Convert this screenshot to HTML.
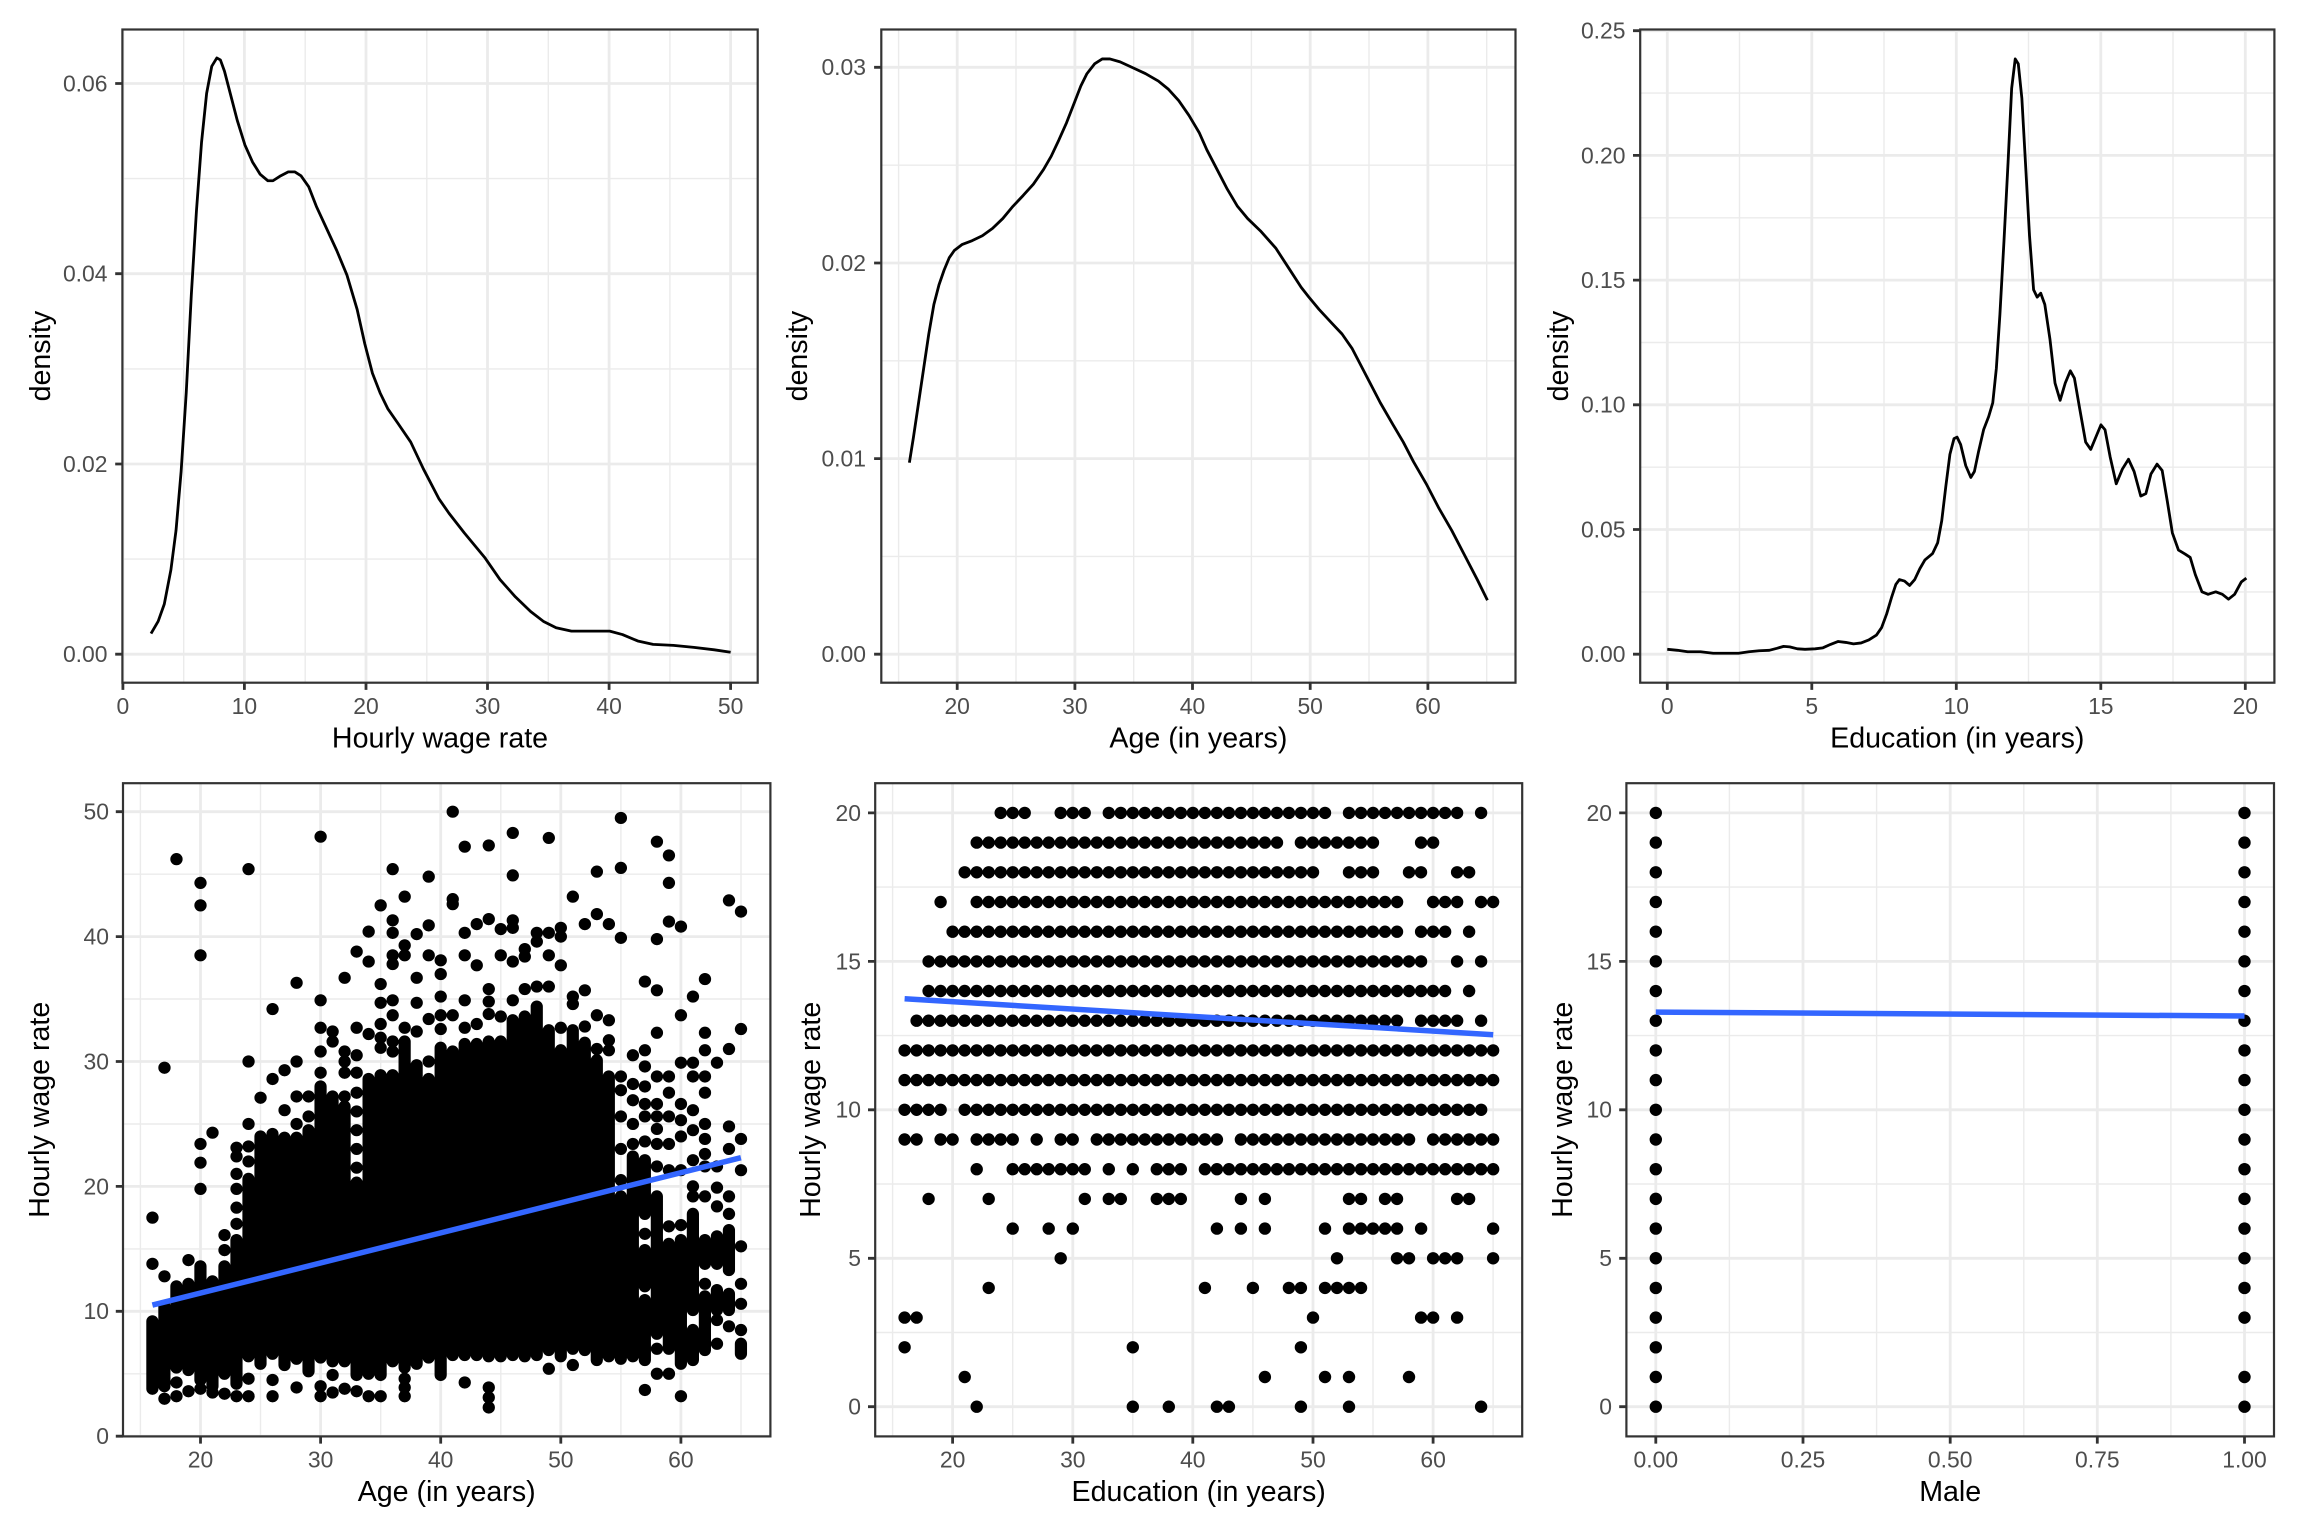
<!DOCTYPE html>
<html><head><meta charset="utf-8"><style>
html,body{margin:0;padding:0;background:#fff}
svg{display:block}
text{font-family:"Liberation Sans",Arial,sans-serif}
.tk{font-size:22.9px;fill:#4D4D4D}
.tt{font-size:28.6px;fill:#000}
</style></head><body>
<svg width="2304" height="1536" viewBox="0 0 2304 1536" xmlns="http://www.w3.org/2000/svg">
<rect width="2304" height="1536" fill="#fff"/>

<!-- ================= GRIDLINES ================= -->
<g stroke="#EBEBEB" fill="none">
<path stroke-width="1.4" d="M183.7 29.5V682.7M305.2 29.5V682.7M426.8 29.5V682.7M548.3 29.5V682.7M669.9 29.5V682.7M122.4 559.1H757.7M122.4 368.9H757.7M122.4 178.6H757.7
M898.6 29.5V682.7M1016 29.5V682.7M1133.7 29.5V682.7M1251.4 29.5V682.7M1369 29.5V682.7M1486.7 29.5V682.7M881.3 556.4H1515.5M881.3 360.8H1515.5M881.3 165.2H1515.5
M1739.5 29.5V682.7M1884 29.5V682.7M2028.5 29.5V682.7M2173 29.5V682.7M1640.2 591.9H2274.4M1640.2 467.2H2274.4M1640.2 342.5H2274.4M1640.2 217.8H2274.4M1640.2 93.1H2274.4
M140.4 783.2V1436.4M260.5 783.2V1436.4M380.7 783.2V1436.4M500.8 783.2V1436.4M620.9 783.2V1436.4M741 783.2V1436.4M123 1373.8H770.4M123 1248.9H770.4M123 1124H770.4M123 999H770.4M123 874.2H770.4
M892.6 783.2V1436.4M1012.7 783.2V1436.4M1132.8 783.2V1436.4M1252.9 783.2V1436.4M1373 783.2V1436.4M1493.1 783.2V1436.4M875.2 1332.5H1522.2M875.2 1184H1522.2M875.2 1035.6H1522.2M875.2 887.1H1522.2
M1729.4 783.2V1436.4M1876.6 783.2V1436.4M2023.8 783.2V1436.4M2170.9 783.2V1436.4M1626.4 1332.5H2274M1626.4 1184H2274M1626.4 1035.6H2274M1626.4 887.1H2274"/>
<path stroke-width="2.8" d="M122.9 29.5V682.7M244.4 29.5V682.7M366 29.5V682.7M487.5 29.5V682.7M609.1 29.5V682.7M730.6 29.5V682.7M122.4 654.2H757.7M122.4 464H757.7M122.4 273.7H757.7M122.4 83.5H757.7
M957.2 29.5V682.7M1074.9 29.5V682.7M1192.5 29.5V682.7M1310.2 29.5V682.7M1427.9 29.5V682.7M881.3 654.2H1515.5M881.3 458.6H1515.5M881.3 263H1515.5M881.3 67.3H1515.5
M1667.3 29.5V682.7M1811.8 29.5V682.7M1956.3 29.5V682.7M2100.8 29.5V682.7M2245.3 29.5V682.7M1640.2 654.2H2274.4M1640.2 529.5H2274.4M1640.2 404.8H2274.4M1640.2 280.1H2274.4M1640.2 155.4H2274.4M1640.2 30.7H2274.4
M200.5 783.2V1436.4M320.6 783.2V1436.4M440.7 783.2V1436.4M560.8 783.2V1436.4M680.9 783.2V1436.4M123 1436.2H770.4M123 1311.3H770.4M123 1186.4H770.4M123 1061.5H770.4M123 936.6H770.4M123 811.7H770.4
M952.6 783.2V1436.4M1072.8 783.2V1436.4M1192.8 783.2V1436.4M1313 783.2V1436.4M1433.1 783.2V1436.4M875.2 1406.7H1522.2M875.2 1258.3H1522.2M875.2 1109.8H1522.2M875.2 961.4H1522.2M875.2 812.9H1522.2
M1655.8 783.2V1436.4M1803 783.2V1436.4M1950.2 783.2V1436.4M2097.3 783.2V1436.4M2244.5 783.2V1436.4M1626.4 1406.7H2274M1626.4 1258.3H2274M1626.4 1109.8H2274M1626.4 961.4H2274M1626.4 812.9H2274"/>
</g>

<!-- ================= DENSITY CURVES ================= -->
<g fill="none" stroke="#000" stroke-linejoin="round" stroke-linecap="butt">
<g transform="scale(0.510204,0.491159)">
<polyline vector-effect="non-scaling-stroke" stroke-width="2.8" points="296,1290 310,1265 322,1230 335,1160 345,1080 355,960 365,800 375,600 385,430 395,290 405,190 415,135 425,118 432,122 440,145 450,185 465,245 480,295 495,330 510,355 525,368 535,368 550,358 565,350 578,350 590,358 605,380 620,420 640,465 660,510 680,560 700,630 715,700 730,760 745,800 760,832 780,862 805,900 830,955 860,1015 880,1045 910,1085 950,1135 980,1180 1010,1215 1040,1245 1065,1265 1090,1278 1120,1285 1160,1285 1195,1285 1220,1292 1250,1305 1280,1312 1320,1314 1360,1318 1400,1323 1432,1328"/>
</g>
<g transform="translate(740,0) scale(0.510204,0.491159)">
<polyline vector-effect="non-scaling-stroke" stroke-width="2.8" points="332,942 340,890 350,820 360,750 370,680 380,620 390,580 400,550 410,525 420,510 435,498 455,490 475,480 495,465 515,445 535,420 555,398 575,375 595,345 610,318 625,285 640,250 655,210 668,175 680,150 695,130 710,120 725,120 745,126 770,138 795,150 820,165 840,182 860,205 880,235 900,270 915,305 935,345 955,385 975,420 995,445 1020,470 1050,505 1075,545 1100,585 1115,605 1135,630 1160,658 1180,680 1200,710 1220,750 1240,790 1255,820 1280,865 1300,900 1320,940 1345,985 1370,1035 1395,1080 1420,1130 1445,1180 1465,1222"/>
</g>
<g transform="translate(1504,0) scale(0.510204,0.491159)">
<polyline vector-effect="non-scaling-stroke" stroke-width="2.8" points="320,1322 340,1324 360,1327 385,1327 410,1330 440,1330 460,1330 480,1327 500,1325 520,1324 535,1320 548,1316 560,1317 575,1321 590,1322 610,1321 625,1319 640,1312 655,1306 670,1308 685,1311 700,1309 715,1303 730,1293 740,1278 750,1250 760,1215 768,1190 775,1180 785,1183 795,1192 805,1180 815,1158 825,1140 840,1127 850,1105 858,1060 866,990 874,925 882,893 888,890 895,905 905,948 915,972 922,960 930,920 940,875 950,848 958,820 965,750 972,640 980,490 988,330 995,180 1002,120 1008,130 1015,200 1022,330 1030,480 1038,590 1045,605 1052,597 1060,620 1070,690 1080,780 1090,815 1100,780 1110,755 1118,770 1128,830 1140,900 1150,915 1160,890 1170,865 1178,875 1188,930 1200,985 1212,955 1224,935 1235,960 1248,1010 1258,1005 1268,965 1280,945 1290,958 1300,1020 1310,1085 1322,1120 1335,1128 1345,1135 1355,1170 1368,1205 1380,1210 1395,1205 1408,1210 1420,1220 1432,1210 1445,1185 1455,1177"/>
</g>
</g>

<!-- ================= SCATTER 1 (age vs wage) ================= -->
<g transform="translate(-39.78,1436.2) scale(12.011,-12.49)">
<path vector-effect="non-scaling-stroke" fill="none" stroke="#000" stroke-width="12.2" stroke-linecap="round" d="
M16 3.8V9.2M16 13.8h.01M16 17.5h.01
M17 4V10.4M17 3h.01M17 12.8h.01M17 29.5h.01
M18 5.5V12M18 4.3h.01M18 3.2h.01M18 46.2h.01
M19 5.3V12.2M19 3.6h.01M19 14.1h.01
M20 4.5V13.6M20 3.8h.01M20 19.8h.01M20 21.9h.01M20 23.4h.01M20 38.5h.01M20 42.5h.01M20 44.3h.01
M21 4V12.4M21 3.5h.01M21 24.3h.01
M22 5V13.6M22 3.4h.01M22 14.9h.01M22 16.1h.01
M23 4.2V15.7M23 3.2h.01M23 17h.01M23 18.3h.01M23 19.8h.01M23 21h.01M23 22.4h.01M23 23.1h.01
M24 6.4V20.6M24 4.6h.01M24 3.2h.01M24 22h.01M24 23.2h.01M24 25h.01M24 30h.01M24 45.4h.01
M25 5.8V24M25 27.1h.01
M26 6.6V24.2M26 4.5h.01M26 3.2h.01M26 28.6h.01M26 34.2h.01
M27 5.7V23.9M27 26.1h.01M27 29.3h.01
M28 6.2V23.9M28 3.9h.01M28 25h.01M28 27.2h.01M28 30h.01M28 36.3h.01
M29 5.2V24.5M29 25.6h.01M29 27.2h.01
M30 6.3V28M30 4h.01M30 3.2h.01M30 29.1h.01M30 30.8h.01M30 32.7h.01M30 34.9h.01M30 48h.01
M31 6V27.2M31 4.9h.01M31 3.5h.01M31 31.6h.01M31 32.4h.01
M32 6V26.4M32 3.8h.01M32 27.2h.01M32 29.1h.01M32 30h.01M32 30.8h.01M32 36.7h.01
M33 4.9V20.3M33 3.6h.01M33 21.5h.01M33 23h.01M33 24.5h.01M33 26h.01M33 27.5h.01M33 29.1h.01M33 30.5h.01M33 32.7h.01M33 38.8h.01
M34 5V28.6M34 3.2h.01M34 32.2h.01M34 38h.01M34 40.4h.01
M35 4.9V28.9M35 3.2h.01M35 31.1h.01M35 31.9h.01M35 33h.01M35 34.7h.01M35 36.2h.01M35 42.5h.01
M36 6V28.9M36 30.8h.01M36 31.6h.01M36 33.7h.01M36 34.9h.01M36 37.8h.01M36 38.5h.01M36 40.3h.01M36 41.3h.01M36 45.4h.01
M37 5.5V31.6M37 3.2h.01M37 3.9h.01M37 4.6h.01M37 32.7h.01M37 38.5h.01M37 39.3h.01M37 43.2h.01
M38 5.8V29.7M38 32.4h.01M38 34.7h.01M38 36.7h.01M38 40.2h.01
M39 6.3V28.6M39 30h.01M39 33.4h.01M39 38.5h.01M39 40.9h.01M39 44.8h.01
M40 4.9V31.1M40 32.6h.01M40 33.7h.01M40 35.2h.01M40 37h.01M40 38.1h.01
M41 6.5V30.8M41 33.7h.01M41 42.6h.01M41 43h.01M41 50h.01
M42 6.5V31.4M42 4.3h.01M42 32.7h.01M42 34.9h.01M42 38.5h.01M42 40.3h.01M42 47.2h.01
M43 6.5V31.4M43 33h.01M43 37.7h.01M43 41h.01
M44 6.4V31.6M44 2.3h.01M44 3.1h.01M44 3.9h.01M44 33.8h.01M44 34.8h.01M44 35.8h.01M44 41.4h.01M44 47.3h.01
M45 6.4V31.6M45 33.6h.01M45 38.5h.01M45 40.6h.01
M46 6.5V33.3M46 34.9h.01M46 38h.01M46 40.7h.01M46 41.3h.01M46 44.9h.01M46 48.3h.01
M47 6.4V33.6M47 35.8h.01M47 38.4h.01M47 39h.01
M48 6.5V34.4M48 36h.01M48 39.6h.01M48 40.3h.01
M49 6.9V32.5M49 5.4h.01M49 36h.01M49 38.5h.01M49 40.3h.01M49 47.9h.01
M50 6.4V30.9M50 32.7h.01M50 37.7h.01M50 40h.01M50 40.7h.01
M51 7V32.5M51 5.7h.01M51 34.6h.01M51 35.2h.01M51 43.2h.01
M52 6.9V31.5M52 32.8h.01M52 35.7h.01M52 41h.01
M53 6.1V30.1M53 31h.01M53 33.7h.01M53 41.8h.01M53 45.2h.01
M54 6.4V28.8M54 30.9h.01M54 31.7h.01M54 33.3h.01M54 41h.01
M55 6.2V19.2M55 20.5h.01M55 23h.01M55 25.6h.01M55 27.7h.01M55 28.8h.01M55 39.9h.01M55 45.5h.01M55 49.5h.01
M56 6.4V22.4M56 23.4h.01M56 25h.01M56 26.9h.01M56 28.2h.01M56 30.5h.01
M57 6.1V10.9M57 12V14.9M57 16.2h.01M57 17.8V22.1M57 3.7h.01M57 23.6h.01M57 25.6h.01M57 26.6h.01M57 28h.01M57 29.6h.01M57 30.9h.01M57 36.4h.01
M58 8.2V19.2M58 5h.01M58 7h.01M58 21.6h.01M58 23.4h.01M58 24.6h.01M58 25.6h.01M58 26.6h.01M58 28.8h.01M58 32.3h.01M58 35.7h.01M58 39.8h.01M58 47.6h.01
M59 7V15.4M59 5h.01M59 16.8h.01M59 21.3h.01M59 23.4h.01M59 25.6h.01M59 27.5h.01M59 28.8h.01M59 41.2h.01M59 44.3h.01M59 46.5h.01
M60 5.8V15.7M60 3.2h.01M60 16.9h.01M60 21.3h.01M60 24h.01M60 25.3h.01M60 26.6h.01M60 29.9h.01M60 33.7h.01M60 40.8h.01
M61 10.1V17.8M61 6.1V8.5M61 19.2h.01M61 20h.01M61 22.1h.01M61 24.5h.01M61 26.1h.01M61 28.8h.01M61 29.9h.01M61 35.2h.01
M62 6.9V11.2M62 12.2h.01M62 13.8V15.7M62 19.2h.01M62 21.6h.01M62 22.6h.01M62 23.8h.01M62 25h.01M62 27.5h.01M62 28.8h.01M62 30.9h.01M62 32.3h.01M62 36.6h.01
M63 13.8V16M63 10.1V11.7M63 9.3h.01M63 7.4h.01M63 18.4h.01M63 19.9h.01M63 21.6h.01M63 29.9h.01
M64 13.3V16.5M64 10.1V11.4M64 8.8h.01M64 17.8h.01M64 19.2h.01M64 23h.01M64 24.8h.01M64 31h.01M64 42.9h.01
M65 6.6V7.4M65 8.5h.01M65 10.6h.01M65 12.2h.01M65 15.2h.01M65 21.3h.01M65 23.8h.01M65 32.6h.01M65 42h.01"/>
</g>
<line x1="152.4" y1="1305.1" x2="740.9" y2="1157.7" stroke="#3366FF" stroke-width="5.5"/>

<!-- ================= SCATTER 2 (dot grid) ================= -->
<g fill="none" stroke="#000" stroke-width="12.4" stroke-linecap="round" stroke-dasharray="0 12.011">
<path d="M1000.7 812.9H1025.2M1060.7 812.9H1085.3M1108.8 812.9H1325.5M1349 812.9H1457.6M1481.1 812.9h.5"/>
<path d="M976.7 842.6H1277.4M1300.9 842.6H1373.5M1421.1 842.6H1433.6"/>
<path d="M964.7 872.3H1313.5M1349 872.3H1373.5M1409 872.3H1421.6M1457.1 872.3H1469.6"/>
<path d="M940.6 902h.5M976.7 902H1397.5M1433.1 902H1457.6M1481.1 902H1493.6"/>
<path d="M952.6 931.7H1397.5M1421.1 931.7H1445.6M1469.1 931.7h.5"/>
<path d="M928.6 961.4H1421.6M1457.1 961.4h.5M1481.1 961.4h.5"/>
<path d="M928.6 991H1445.6M1469.1 991h.5"/>
<path d="M916.6 1020.7H1397.5M1421.1 1020.7H1457.6M1481.1 1020.7h.5"/>
<path d="M904.6 1050.4H1493.6"/>
<path d="M904.6 1080.1H1493.6"/>
<path d="M904.6 1109.8H941.1M964.7 1109.8H1481.6"/>
<path d="M904.6 1139.5H917.1M940.6 1139.5H953.1M976.7 1139.5H1013.2M1036.7 1139.5h.5M1060.7 1139.5H1073.3M1096.8 1139.5H1217.4M1240.9 1139.5H1409.5M1433.1 1139.5H1493.6"/>
<path d="M976.7 1169.2h.5M1012.7 1169.2H1085.3M1108.8 1169.2h.5M1132.8 1169.2h.5M1156.8 1169.2H1181.3M1204.9 1169.2H1493.6"/>
<path d="M928.6 1198.9h.5M988.7 1198.9h.5M1084.8 1198.9h.5M1108.8 1198.9H1121.3M1156.8 1198.9H1181.3M1240.9 1198.9h.5M1264.9 1198.9h.5M1349 1198.9H1361.5M1385 1198.9H1397.5M1457.1 1198.9H1469.6"/>
<path d="M1012.7 1228.6h.5M1048.7 1228.6h.5M1072.8 1228.6h.5M1216.9 1228.6h.5M1240.9 1228.6h.5M1264.9 1228.6h.5M1325 1228.6h.5M1349 1228.6H1397.5M1421.1 1228.6h.5M1493.1 1228.6h.5"/>
<path d="M1060.7 1258.3h.5M1337 1258.3h.5M1397 1258.3H1409.5M1433.1 1258.3H1457.6M1493.1 1258.3h.5"/>
<path d="M988.7 1287.9h.5M1204.9 1287.9h.5M1252.9 1287.9h.5M1288.9 1287.9H1301.4M1325 1287.9H1361.5"/>
<path d="M904.6 1317.6H917.1M1313 1317.6h.5M1421.1 1317.6H1433.6M1457.1 1317.6h.5"/>
<path d="M904.6 1347.3h.5M1132.8 1347.3h.5M1300.9 1347.3h.5"/>
<path d="M964.7 1377h.5M1264.9 1377h.5M1325 1377h.5M1349 1377h.5M1409 1377h.5"/>
<path d="M976.7 1406.7h.5M1132.8 1406.7h.5M1168.8 1406.7h.5M1216.9 1406.7H1229.4M1300.9 1406.7h.5M1349 1406.7h.5M1481.1 1406.7h.5"/>
</g>
<line x1="904.6" y1="998.8" x2="1493.2" y2="1034.7" stroke="#3366FF" stroke-width="5.5"/>

<!-- ================= SCATTER 3 (male) ================= -->
<g fill="none" stroke="#000" stroke-width="12.4" stroke-linecap="round" stroke-dasharray="0 29.69">
<path d="M1655.8 812.9V1407.2"/>
<path d="M2244.5 812.9V1318.1M2244.5 1377v.5M2244.5 1406.7v.5"/>
</g>
<line x1="1655.8" y1="1012.1" x2="2244.5" y2="1016" stroke="#3366FF" stroke-width="5.5"/>

<!-- ================= PANEL BORDERS ================= -->
<g fill="none" stroke="#333333" stroke-width="2.2">
<rect x="122.4" y="29.5" width="635.3" height="653.2"/>
<rect x="881.3" y="29.5" width="634.2" height="653.2"/>
<rect x="1640.2" y="29.5" width="634.2" height="653.2"/>
<rect x="123" y="783.2" width="647.4" height="653.2"/>
<rect x="875.2" y="783.2" width="647" height="653.2"/>
<rect x="1626.4" y="783.2" width="647.6" height="653.2"/>
</g>

<!-- ================= TICKS ================= -->
<path fill="none" stroke="#333333" stroke-width="2.8" d="
M122.9 682.7v7.2M244.4 682.7v7.2M366 682.7v7.2M487.5 682.7v7.2M609.1 682.7v7.2M730.6 682.7v7.2
M115.2 654.2h7.2M115.2 464h7.2M115.2 273.7h7.2M115.2 83.5h7.2
M957.2 682.7v7.2M1074.9 682.7v7.2M1192.5 682.7v7.2M1310.2 682.7v7.2M1427.9 682.7v7.2
M874.1 654.2h7.2M874.1 458.6h7.2M874.1 263h7.2M874.1 67.3h7.2
M1667.3 682.7v7.2M1811.8 682.7v7.2M1956.3 682.7v7.2M2100.8 682.7v7.2M2245.3 682.7v7.2
M1633 654.2h7.2M1633 529.5h7.2M1633 404.8h7.2M1633 280.1h7.2M1633 155.4h7.2M1633 30.7h7.2
M200.5 1436.4v7.2M320.6 1436.4v7.2M440.7 1436.4v7.2M560.8 1436.4v7.2M680.9 1436.4v7.2
M115.8 1436.2h7.2M115.8 1311.3h7.2M115.8 1186.4h7.2M115.8 1061.5h7.2M115.8 936.6h7.2M115.8 811.7h7.2
M952.6 1436.4v7.2M1072.8 1436.4v7.2M1192.8 1436.4v7.2M1313 1436.4v7.2M1433.1 1436.4v7.2
M868 1406.7h7.2M868 1258.3h7.2M868 1109.8h7.2M868 961.4h7.2M868 812.9h7.2
M1655.8 1436.4v7.2M1803 1436.4v7.2M1950.2 1436.4v7.2M2097.3 1436.4v7.2M2244.5 1436.4v7.2
M1619.2 1406.7h7.2M1619.2 1258.3h7.2M1619.2 1109.8h7.2M1619.2 961.4h7.2M1619.2 812.9h7.2"/>

<!-- ================= TICK LABELS ================= -->
<g class="tk" text-anchor="middle">
<text x="122.9" y="714">0</text><text x="244.4" y="714">10</text><text x="366" y="714">20</text><text x="487.5" y="714">30</text><text x="609.1" y="714">40</text><text x="730.6" y="714">50</text>
<text x="957.2" y="714">20</text><text x="1074.9" y="714">30</text><text x="1192.5" y="714">40</text><text x="1310.2" y="714">50</text><text x="1427.9" y="714">60</text>
<text x="1667.3" y="714">0</text><text x="1811.8" y="714">5</text><text x="1956.3" y="714">10</text><text x="2100.8" y="714">15</text><text x="2245.3" y="714">20</text>
<text x="200.5" y="1467.7">20</text><text x="320.6" y="1467.7">30</text><text x="440.7" y="1467.7">40</text><text x="560.8" y="1467.7">50</text><text x="680.9" y="1467.7">60</text>
<text x="952.6" y="1467.7">20</text><text x="1072.8" y="1467.7">30</text><text x="1192.8" y="1467.7">40</text><text x="1313" y="1467.7">50</text><text x="1433.1" y="1467.7">60</text>
<text x="1655.8" y="1467.7">0.00</text><text x="1803" y="1467.7">0.25</text><text x="1950.2" y="1467.7">0.50</text><text x="2097.3" y="1467.7">0.75</text><text x="2244.5" y="1467.7">1.00</text>
</g>
<g class="tk" text-anchor="end">
<text x="107.5" y="662.1">0.00</text><text x="107.5" y="471.9">0.02</text><text x="107.5" y="281.6">0.04</text><text x="107.5" y="91.4">0.06</text>
<text x="866" y="662.1">0.00</text><text x="866" y="466.5">0.01</text><text x="866" y="270.9">0.02</text><text x="866" y="75.2">0.03</text>
<text x="1625.5" y="662.1">0.00</text><text x="1625.5" y="537.4">0.05</text><text x="1625.5" y="412.7">0.10</text><text x="1625.5" y="288">0.15</text><text x="1625.5" y="163.3">0.20</text><text x="1625.5" y="38.6">0.25</text>
<text x="109" y="1444.1">0</text><text x="109" y="1319.2">10</text><text x="109" y="1194.3">20</text><text x="109" y="1069.4">30</text><text x="109" y="944.5">40</text><text x="109" y="819.6">50</text>
<text x="861" y="1414.6">0</text><text x="861" y="1266.2">5</text><text x="861" y="1117.7">10</text><text x="861" y="969.3">15</text><text x="861" y="820.8">20</text>
<text x="1612" y="1414.6">0</text><text x="1612" y="1266.2">5</text><text x="1612" y="1117.7">10</text><text x="1612" y="969.3">15</text><text x="1612" y="820.8">20</text>
</g>

<!-- ================= AXIS TITLES ================= -->
<g class="tt" text-anchor="middle">
<text x="440" y="747.5">Hourly wage rate</text>
<text x="1198.4" y="747.5">Age (in years)</text>
<text x="1957.3" y="747.5">Education (in years)</text>
<text x="446.7" y="1501">Age (in years)</text>
<text x="1198.7" y="1501">Education (in years)</text>
<text x="1950.2" y="1501">Male</text>
<text transform="translate(50,356.1) rotate(-90)">density</text>
<text transform="translate(807,356.1) rotate(-90)">density</text>
<text transform="translate(1568,356.1) rotate(-90)">density</text>
<text transform="translate(49,1109.8) rotate(-90)">Hourly wage rate</text>
<text transform="translate(820,1109.8) rotate(-90)">Hourly wage rate</text>
<text transform="translate(1572,1109.8) rotate(-90)">Hourly wage rate</text>
</g>
</svg>
</body></html>
